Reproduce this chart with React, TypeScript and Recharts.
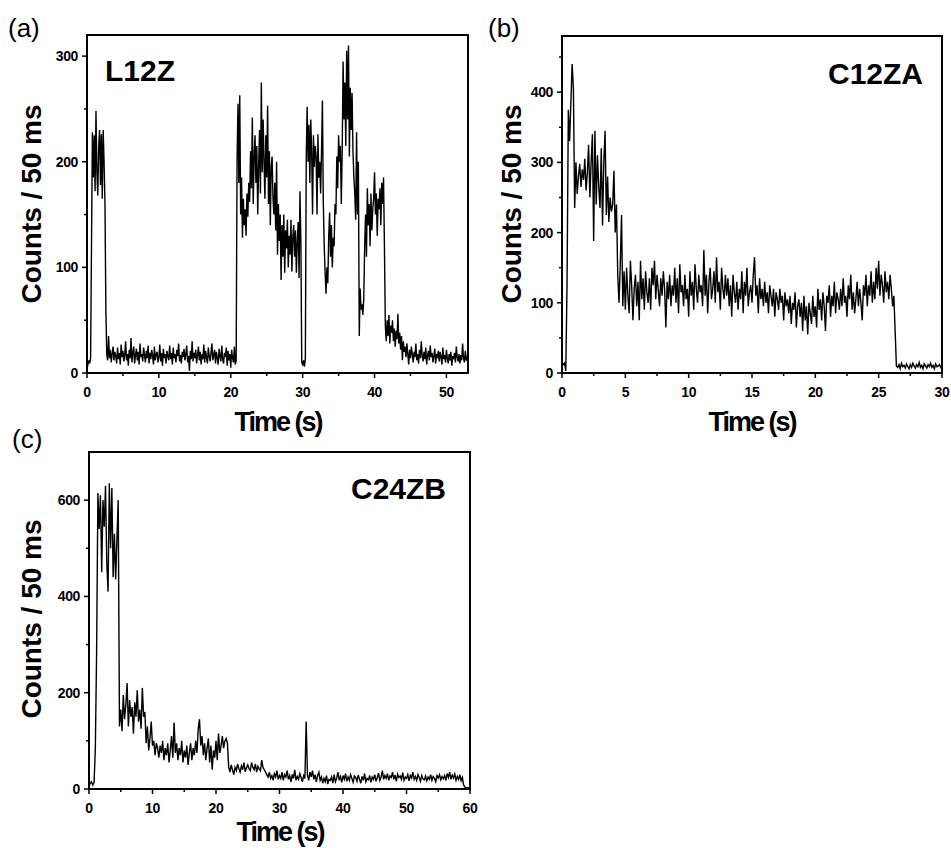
import { LineChart, Line, XAxis, YAxis } from 'recharts';

// (a) L12Z, sampled every 0.125 s
const dtA = 0.125;
const countsA = [
  10, 8, 12, 9, 14, 120, 228, 185,
  225, 172, 248, 190, 168, 215, 230, 178,
  226, 165, 230, 200, 160, 60, 18, 12,
  35, 14, 22, 10, 18, 25, 12, 20,
  16, 9, 24, 13, 19, 8, 27, 15,
  21, 11, 17, 30, 12, 18, 7, 22,
  14, 33, 10, 19, 25, 9, 17, 23,
  12, 20, 8, 28, 15, 18, 11, 24,
  17, 10, 21, 14, 26, 9, 19, 13,
  22, 16, 8, 25, 12, 18, 20, 10,
  15, 27, 11, 19, 7, 23, 14, 18,
  9, 21, 16, 12, 26, 13, 19, 8,
  24, 14, 18, 10, 22, 16, 28, 11,
  17, 9, 20, 15, 23, 12, 18, 26,
  10, 16, 2, 21, 13, 30, 11, 19,
  14, 22, 9, 17, 25, 12, 20, 8,
  18, 13, 27, 10, 21, 15, 9, 24,
  16, 11, 19, 28, 12, 17, 22, 9,
  20, 14, 8, 23, 16, 11, 26, 13,
  9, 19, 15, 24, 7, 21, 12, 18,
  5, 22, 14, 10, 25, 8, 12, 200,
  255, 180, 263, 150, 185, 128, 165, 140,
  155, 130, 170, 148, 180, 162, 210, 175,
  242, 160, 205, 225, 180, 215, 150, 195,
  230, 170, 275, 190, 240, 200, 165, 225,
  185, 253, 160, 210, 140, 195, 205, 165,
  150, 180, 135, 200, 112, 160, 125, 150,
  88, 140, 110, 150, 95, 135, 118, 145,
  100, 130, 112, 145, 96, 128, 140, 110,
  135, 95, 125, 143, 90, 172, 125, 10,
  8, 12, 6, 14, 205, 252, 200, 235,
  180, 240, 210, 150, 225, 195, 215, 205,
  150, 226, 185, 200, 170, 210, 258, 160,
  120, 95, 75, 100, 85, 130, 152, 110,
  140, 100, 128, 120, 160, 150, 205, 175,
  225, 200, 215, 160, 210, 295, 240, 275,
  215, 305, 240, 310, 205, 270, 230, 265,
  210, 185, 170, 145, 228, 150, 200, 35,
  80, 60, 65, 55, 70, 120, 150, 110,
  175, 140, 160, 120, 170, 135, 155, 165,
  190, 150, 170, 130, 165, 155, 175, 140,
  180, 160, 185, 120, 45, 30, 50, 35,
  55, 28, 45, 38, 50, 30, 42, 25,
  40, 32, 56, 28, 38, 22, 35, 12,
  30, 20, 25, 15, 28, 18, 8, 22,
  14, 25, 18, 10, 20, 15, 28, 12,
  18, 9, 22, 14, 30, 16, 11, 20,
  13, 24, 8, 17, 21, 12, 26, 15,
  19, 10, 16, 23, 9, 18, 14, 21,
  11, 20, 15, 8, 24, 13, 17, 10,
  22, 14, 9, 18, 12, 20, 7, 16,
  13, 19, 10, 25, 15, 11, 18, 9,
  17, 12, 28, 14, 10, 21, 13, 15,
  8,
];

// (b) C12ZA, sampled every 0.1 s
const dtB = 0.1;
const countsB = [
  15, 12, 14, 3, 130, 375, 330, 385, 440, 405,
  235, 300, 255, 280, 298, 265, 290, 275, 305, 260,
  285, 325, 250, 300, 340, 188, 345, 240, 310, 265,
  235, 320, 210, 300, 345, 225, 280, 215, 250, 230,
  240, 288, 200, 240, 140, 100, 155, 225, 95, 145,
  90, 150, 110, 85, 160, 125, 75, 120, 140, 95,
  130, 75, 160, 105, 135, 90, 145, 115, 100, 135,
  90, 150, 125, 160, 105, 140, 118, 95, 135, 110,
  145, 120, 65, 130, 105, 140, 95, 125, 110, 150,
  100, 135, 85, 155, 115, 125, 95, 140, 105, 120,
  80, 145, 110, 130, 90, 155, 120, 100, 140, 115,
  125, 95, 175, 110, 140, 85, 130, 150, 105, 120,
  145, 100, 165, 115, 130, 90, 150, 120, 105, 140,
  110, 135, 95, 125, 80, 140, 115, 100, 130, 90,
  120, 105, 145, 85, 130, 110, 150, 95, 115, 125,
  100, 140, 165, 110, 125, 85, 135, 105, 120, 95,
  130, 100, 115, 85, 125, 110, 95, 120, 80, 115,
  105, 90, 120, 100, 110, 75, 115, 95, 105, 85,
  110, 70, 100, 90, 115, 65, 95, 105, 80, 100,
  60, 110, 75, 95, 55, 100, 85, 70, 110, 80,
  95, 65, 120, 90, 105, 75, 115, 95, 60, 110,
  100, 125, 80, 110, 95, 130, 85, 115, 105, 90,
  120, 95, 135, 100, 110, 80, 125, 105, 140, 90,
  115, 85, 105, 130, 95, 120, 100, 75, 125, 110,
  140, 95, 125, 110, 145, 100, 130, 105, 150, 120,
  160, 110, 140, 125, 100, 145, 115, 130, 105, 140,
  120, 95, 110, 60, 10, 8, 12, 6, 14, 9,
  11, 7, 13, 9, 6, 12, 8, 14, 10, 7,
  12, 9, 15, 8, 11, 6, 13, 10, 7, 12,
  9, 14, 8, 11, 6, 13, 9, 10, 12, 8,
  10,
];

// (c) C24ZB, sampled every 0.2 s
const dtC = 0.2;
const countsC = [
  5, 12, 15, 8, 14,
  85, 285, 615, 540, 610,
  450, 600, 545, 630, 470,
  410, 635, 500, 625, 440,
  530, 435, 520, 600, 130,
  165, 120, 195, 145, 175,
  220, 130, 185, 150, 170,
  115, 180, 150, 205, 140,
  165, 125, 210, 150, 160,
  95, 130, 80, 105, 140,
  90, 100, 70, 95, 85,
  65, 90, 75, 100, 60,
  85, 70, 95, 55, 80,
  110, 65, 138, 75, 95,
  60, 85, 70, 100, 55,
  80, 65, 90, 50, 75,
  95, 60, 85, 70, 100,
  75, 125, 145, 90, 110,
  70, 95, 60, 85, 105,
  55, 90, 40, 80, 65,
  100, 60, 115, 75, 90,
  110, 85, 100, 105, 95,
  45, 35, 50, 40, 30,
  45, 38, 52, 42, 35,
  48, 40, 55, 36, 44,
  50, 42, 38, 55, 45,
  40, 52, 35, 47, 42,
  38, 60, 45, 40, 35,
  30, 25, 35, 22, 28,
  18, 32, 25, 38, 20,
  28, 22, 35, 18, 30,
  25, 38, 20, 28, 15,
  30, 22, 40, 18, 26,
  20, 32, 24, 15, 28,
  22, 140, 30, 18, 35,
  25, 38, 20, 30, 15,
  28, 35, 18, 25, 12,
  22, 15, 28, 10, 20,
  18, 25, 12, 30, 15,
  22, 35, 18, 26, 14,
  28, 20, 32, 16, 25,
  18, 30, 22, 14, 27,
  24, 16, 29, 20, 12,
  26, 18, 32, 15, 22,
  19, 28, 14, 25, 20,
  30, 16, 24, 33, 18,
  25, 38, 20, 28, 22,
  32, 18, 27, 24, 35,
  20, 29, 16, 31, 24,
  27, 20, 34, 18, 25,
  22, 30, 17, 28, 23,
  35, 20, 26, 18, 30,
  24, 16, 28, 21, 19,
  27, 17, 25, 20, 30,
  18, 26, 22, 15, 28,
  23, 30, 19, 26, 21,
  28, 18, 32, 24, 35,
  20, 29, 23, 31, 18,
  26, 20, 30, 17, 24,
  8, 4, 2, 3, 2,
  3,
];

const xTicksA = [0, 5, 10, 15, 20, 25, 30, 35, 40, 45, 50];
const xMajorA = [0, 10, 20, 30, 40, 50];
const yTicksA = [0, 50, 100, 150, 200, 250, 300];
const yMajorA = [0, 100, 200, 300];

const xTicksB = [0, 2.5, 5, 7.5, 10, 12.5, 15, 17.5, 20, 22.5, 25, 27.5, 30];
const xMajorB = [0, 5, 10, 15, 20, 25, 30];
const yTicksB = [0, 50, 100, 150, 200, 250, 300, 350, 400, 450];
const yMajorB = [0, 100, 200, 300, 400];

const xTicksC = [0, 5, 10, 15, 20, 25, 30, 35, 40, 45, 50, 55, 60];
const xMajorC = [0, 10, 20, 30, 40, 50, 60];
const yTicksC = [0, 100, 200, 300, 400, 500, 600];
const yMajorC = [0, 200, 400, 600];

const FONT = 'Arial, "Liberation Sans", Helvetica, sans-serif';

const toRows = (counts: number[], dt: number) =>
  counts.map((c, i) => ({ t: +(i * dt).toFixed(3), c }));

function makeXTick(major: number[]) {
  return (props: any) => {
    const { x, y, payload } = props;
    const isMajor = major.includes(payload.value);
    return (
      <g>
        <line x1={x} x2={x} y1={y} y2={y + (isMajor ? 5 : 3)} stroke="#000" strokeWidth={1.5} />
        {isMajor && (
          <text x={x} y={y + 14} dy="0.71em" textAnchor="middle" fontFamily={FONT}
            fontSize={14} fontWeight="bold" letterSpacing={-0.4} fill="#000">
            {payload.value}
          </text>
        )}
      </g>
    );
  };
}

function makeYTick(major: number[]) {
  return (props: any) => {
    const { x, y, payload } = props;
    const isMajor = major.includes(payload.value);
    return (
      <g>
        <line x1={x} x2={x - (isMajor ? 5 : 3)} y1={y} y2={y} stroke="#000" strokeWidth={1.5} />
        {isMajor && (
          <text x={x - 9} y={y} dy="0.36em" textAnchor="end" fontFamily={FONT}
            fontSize={14} fontWeight="bold" letterSpacing={-0.4} fill="#000">
            {payload.value}
          </text>
        )}
      </g>
    );
  };
}

interface PanelProps {
  rows: { t: number; c: number }[];
  left: number;
  top: number;
  width: number;
  plot: { x0: number; y0: number; x1: number; y1: number };
  xMax: number;
  yMax: number;
  xTicks: number[];
  xMajor: number[];
  yTicks: number[];
  yMajor: number[];
}

function Panel({ rows, left, top, width, plot, xMax, yMax, xTicks, xMajor, yTicks, yMajor }: PanelProps) {
  const height = plot.y1 - top + 40;
  return (
    <>
      <div style={{ position: 'absolute', left, top }}>
        <LineChart
          width={width}
          height={height}
          data={rows}
          margin={{ top: plot.y0 - top, right: left + width - plot.x1, bottom: 10, left: 0 }}
        >
          <XAxis dataKey="t" type="number" domain={[0, xMax]} ticks={xTicks} interval={0}
            axisLine={false} tickLine={false} tickSize={0} tickMargin={0} height={30}
            tick={makeXTick(xMajor)} />
          <YAxis type="number" domain={[0, yMax]} ticks={yTicks} interval={0}
            axisLine={false} tickLine={false} tickSize={0} tickMargin={0} width={plot.x0 - left}
            tick={makeYTick(yMajor)} />
          <Line dataKey="c" stroke="#000" strokeWidth={1.4} dot={false} isAnimationActive={false} />
        </LineChart>
      </div>
      <div style={{
        position: 'absolute', left: plot.x0 - 1, top: plot.y0 - 1,
        width: plot.x1 - plot.x0 + 2, height: plot.y1 - plot.y0 + 2,
        border: '2px solid #000', boxSizing: 'border-box', pointerEvents: 'none',
      }} />
    </>
  );
}

const abs = (l: number, t: number, extra: any = {}) => ({ position: 'absolute' as const, left: l, top: t, lineHeight: 1, whiteSpace: 'nowrap' as const, ...extra });

function YTitle({ cx, cy }: { cx: number; cy: number }) {
  return (
    <div style={abs(cx, cy, { transform: 'translate(-50%, -50%) rotate(-90deg)', fontSize: 28, fontWeight: 'bold' })}>
      Counts / 50 ms
    </div>
  );
}

function XTitle({ cx, cy }: { cx: number; cy: number }) {
  return (
    <div style={abs(cx, cy, { transform: 'translate(-50%, -50%)', fontSize: 27, fontWeight: 'bold', letterSpacing: -2 })}>
      Time (s)
    </div>
  );
}

export default function App() {
  return (
    <div style={{ position: 'absolute', left: 0, top: 0, width: 951, height: 848, background: '#fff', fontFamily: FONT, color: '#000' }}>
      <Panel rows={toRows(countsA, dtA)} left={0} top={0} width={480}
        plot={{ x0: 87, y0: 35, x1: 468, y1: 373 }} xMax={53} yMax={320}
        xTicks={xTicksA} xMajor={xMajorA} yTicks={yTicksA} yMajor={yMajorA} />
      <Panel rows={toRows(countsB, dtB)} left={480} top={0} width={471}
        plot={{ x0: 562, y0: 36, x1: 942, y1: 373 }} xMax={30} yMax={480}
        xTicks={xTicksB} xMajor={xMajorB} yTicks={yTicksB} yMajor={yMajorB} />
      <Panel rows={toRows(countsC, dtC)} left={0} top={420} width={480}
        plot={{ x0: 89, y0: 452, x1: 470, y1: 789 }} xMax={60} yMax={700}
        xTicks={xTicksC} xMajor={xMajorC} yTicks={yTicksC} yMajor={yMajorC} />

      <div style={abs(8, 15, { fontSize: 26 })}>(a)</div>
      <div style={abs(488, 15, { fontSize: 26 })}>(b)</div>
      <div style={abs(12, 426, { fontSize: 26 })}>(c)</div>

      <div style={abs(105, 56, { fontSize: 30, fontWeight: 'bold' })}>L12Z</div>
      <div style={{ ...abs(0, 59, { fontSize: 30, fontWeight: 'bold' }), left: undefined, right: 28 }}>C12ZA</div>
      <div style={{ ...abs(0, 474, { fontSize: 30, fontWeight: 'bold' }), left: undefined, right: 505 }}>C24ZB</div>

      <YTitle cx={32} cy={204} />
      <YTitle cx={512} cy={204} />
      <YTitle cx={32} cy={619} />

      <XTitle cx={278} cy={422} />
      <XTitle cx={752} cy={422} />
      <XTitle cx={280} cy={832} />
    </div>
  );
}
